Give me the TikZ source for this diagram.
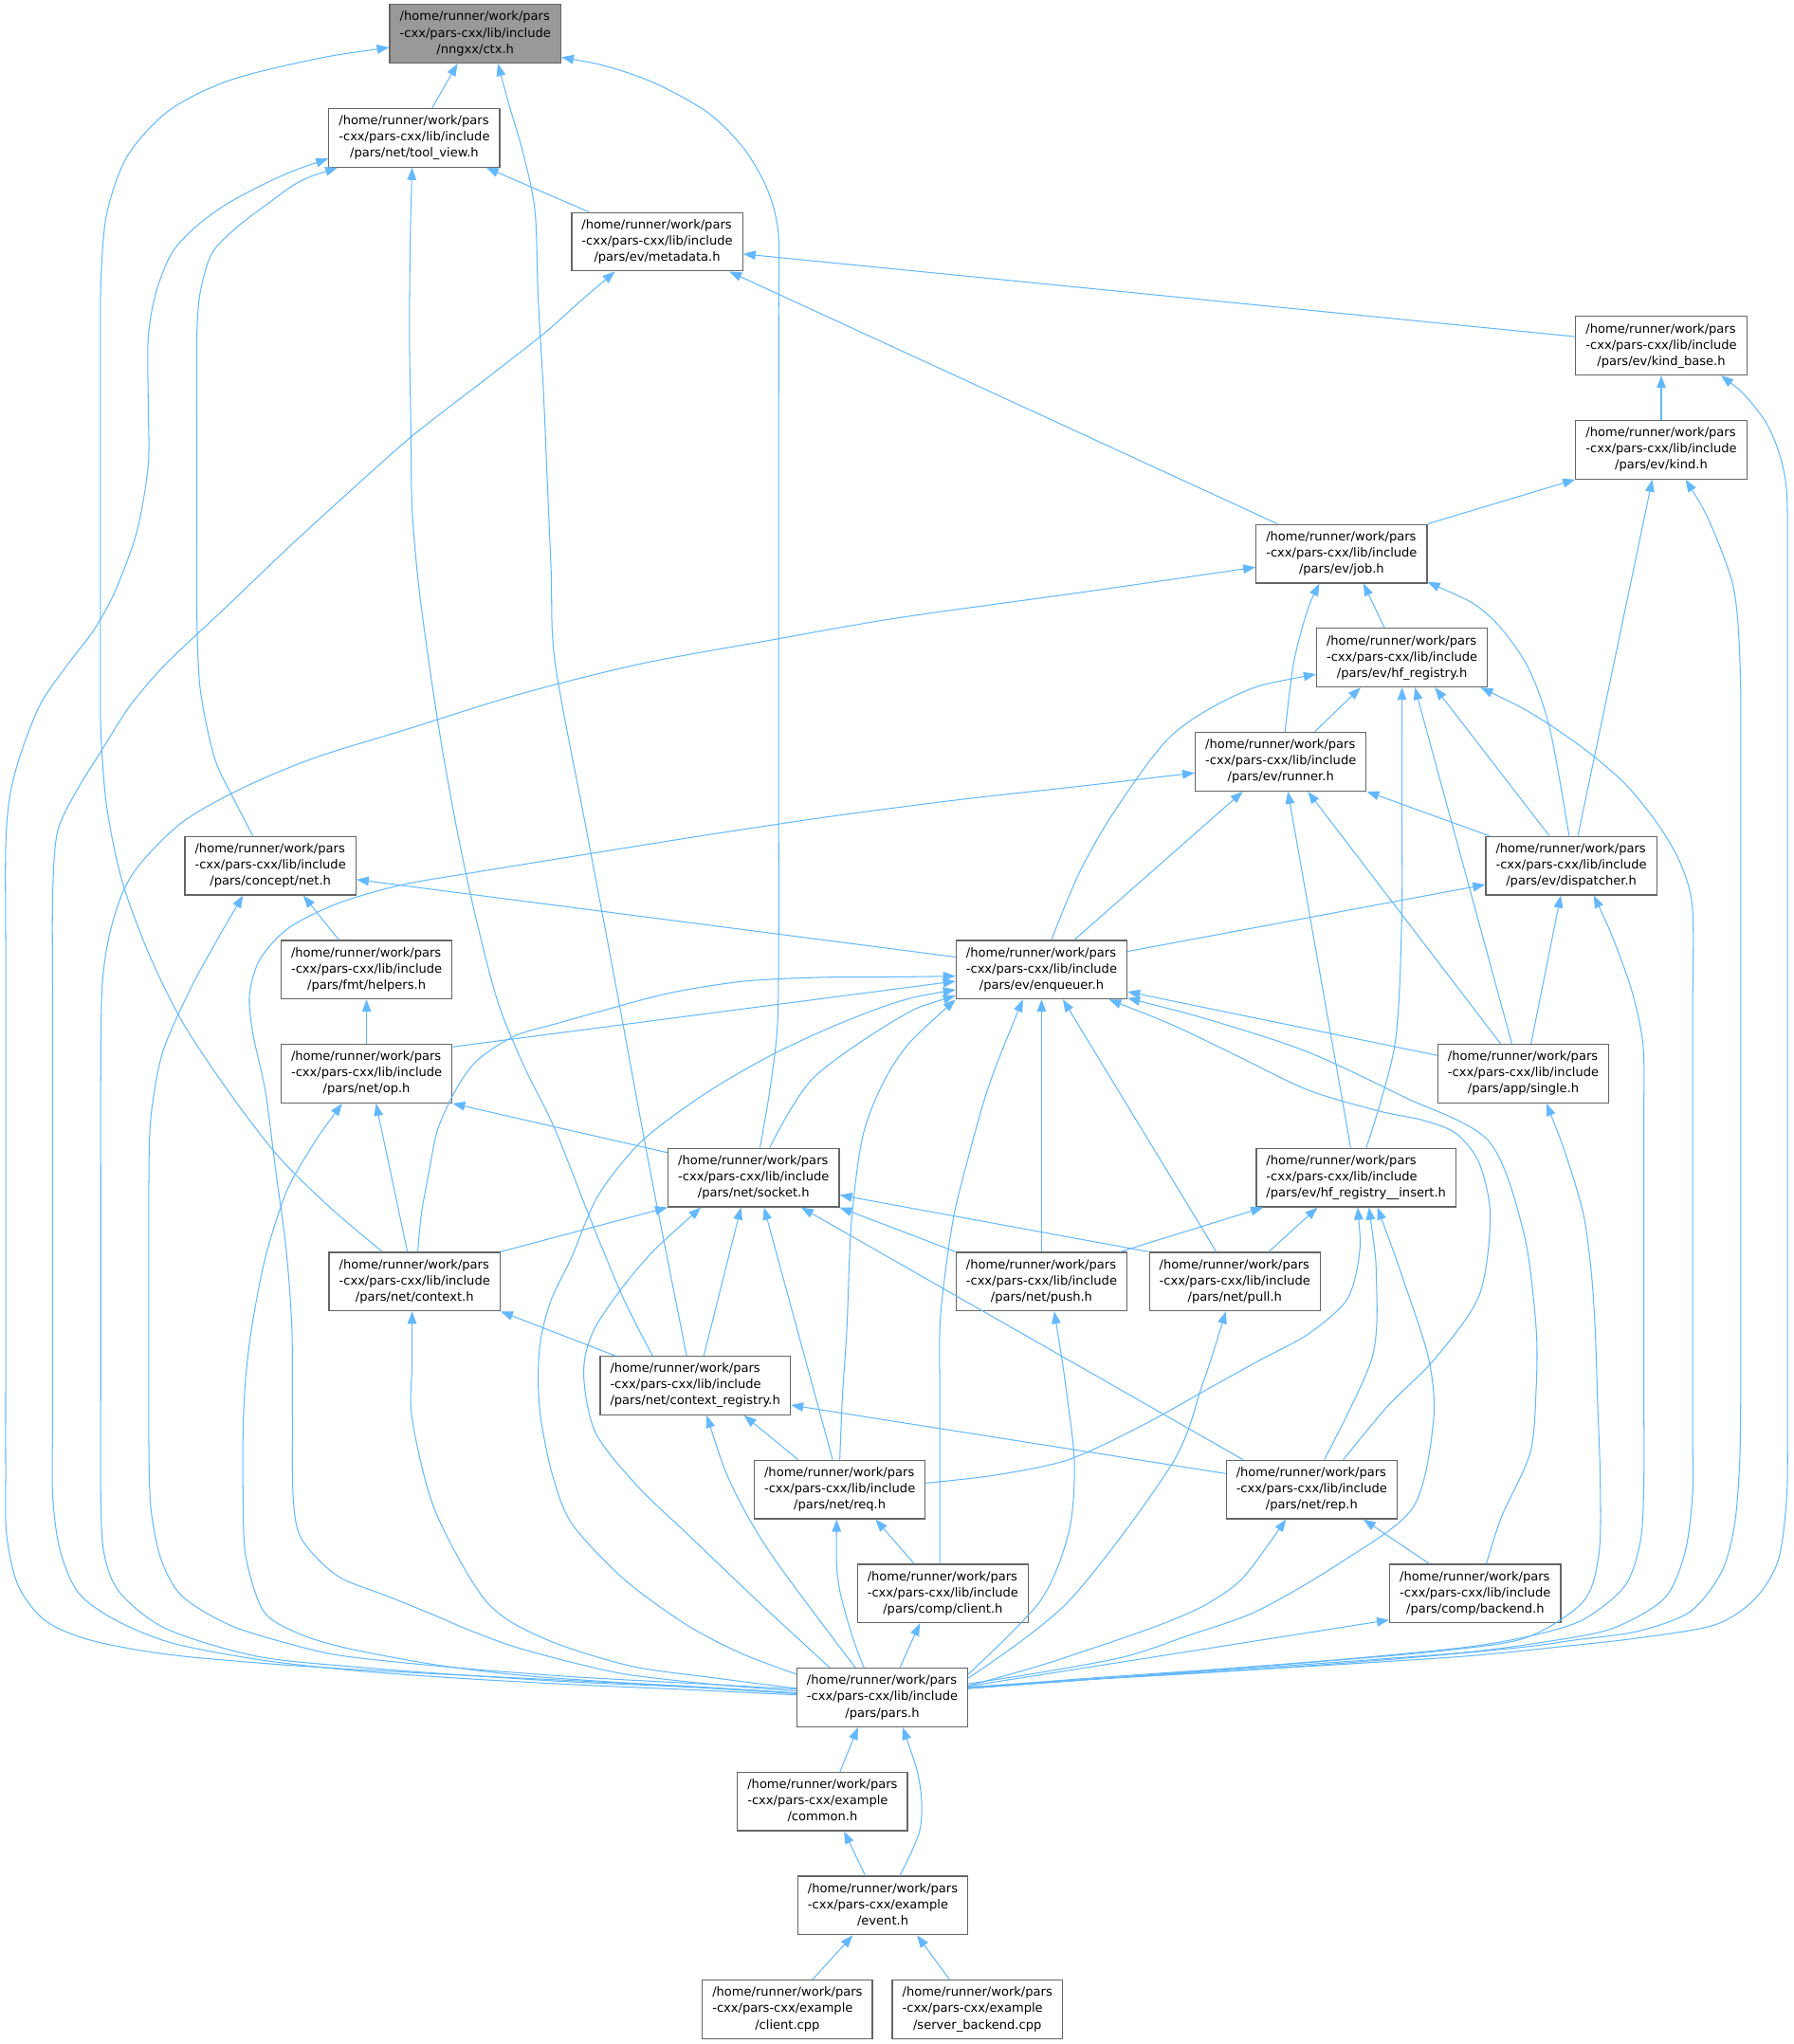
\documentclass[tikz,border=0pt]{standalone}
\usepackage{fontspec}
\setmainfont{DejaVu Sans}
\usepackage{xcolor}
\usepackage{tikz}
\usetikzlibrary{arrows.meta, positioning}

\definecolor{linkblue}{HTML}{63B8FF}
\definecolor{boxgray}{HTML}{666666}
\definecolor{rootgray}{HTML}{999999}

\newcommand{\libfile}[1]{\begin{tabular}{@{}l@{}}/home/runner/work/pars\\-cxx/pars-cxx/lib/include\\\multicolumn{1}{@{}c@{}}{#1}\end{tabular}}
\newcommand{\exfile}[1]{\begin{tabular}{@{}l@{}}/home/runner/work/pars\\-cxx/pars-cxx/example\\\multicolumn{1}{@{}c@{}}{#1}\end{tabular}}

\begin{document}
\begin{tikzpicture}[>={Triangle[length=9.5pt,width=7pt]}, x=1pt, y=-1pt]

        % Styles
        \tikzstyle{file} = [draw=boxgray, fill=white, line width=0.9pt, inner xsep=7.7pt, inner ysep=0pt, minimum height=45pt, font=\fontsize{9.52}{12.45}\selectfont]
        \tikzstyle{rootfile} = [file, fill=rootgray]
        \tikzstyle{bluearrow} = [<-, linkblue, line width=0.75pt]
        \tikzstyle{bluecurve} = [bluearrow, smooth, tension=0.5]

        \useasboundingbox (0,0) rectangle (1380,1572.6);

        % Library headers
        \node[rootfile] (ctx) at (365.6,26) {\libfile{/nngxx/ctx.h}};
        \node[file] (tview) at (318.7,106) {\libfile{/pars/net/tool\_view.h}};
        \node[file] (meta) at (505.5,186) {\libfile{/pars/ev/metadata.h}};
        \node[file] (kbase) at (1277.9,266) {\libfile{/pars/ev/kind\_base.h}};
        \node[file] (kind) at (1277.9,346) {\libfile{/pars/ev/kind.h}};
        \node[file] (job) at (1032,426) {\libfile{/pars/ev/job.h}};
        \node[file] (hfreg) at (1078.5,506) {\libfile{/pars/ev/hf\_registry.h}};
        \node[file] (runner) at (985.2,586) {\libfile{/pars/ev/runner.h}};
        \node[file] (cnet) at (208,666) {\libfile{/pars/concept/net.h}};
        \node[file] (disp) at (1208.7,666) {\libfile{/pars/ev/dispatcher.h}};
        \node[file] (fmth) at (282,746) {\libfile{/pars/fmt/helpers.h}};
        \node[file] (enq) at (801.2,746) {\libfile{/pars/ev/enqueuer.h}};
        \node[file] (op) at (282,826) {\libfile{/pars/net/op.h}};
        \node[file] (single) at (1171.8,826) {\libfile{/pars/app/single.h}};
        \node[file] (hfins) at (1043.2,906) {\libfile{/pars/ev/hf\_registry\_\_insert.h}};
        \node[file] (sock) at (579.7,906) {\libfile{/pars/net/socket.h}};
        \node[file] (netctx) at (318.9,986) {\libfile{/pars/net/context.h}};
        \node[file] (push) at (801.2,986) {\libfile{/pars/net/push.h}};
        \node[file] (pull) at (949.9,986) {\libfile{/pars/net/pull.h}};
        \node[file] (creg) at (534.8,1066) {\libfile{/pars/net/context\_registry.h}};
        \node[file] (req) at (646,1146) {\libfile{/pars/net/req.h}};
        \node[file] (rep) at (1009,1146) {\libfile{/pars/net/rep.h}};
        \node[file] (cclient) at (725.3,1226) {\libfile{/pars/comp/client.h}};
        \node[file] (cback) at (1134.8,1226) {\libfile{/pars/comp/backend.h}};
        \node[file] (pars) at (678.7,1306) {\libfile{/pars/pars.h}};

        % Examples
        \node[file] (common) at (632.7,1386) {\exfile{/common.h}};
        \node[file] (event) at (679.1,1466) {\exfile{/event.h}};
        \node[file] (clicpp) at (605.7,1546) {\exfile{/client.cpp}};
        \node[file] (srvcpp) at (751.8,1546) {\exfile{/server\_backend.cpp}};

        % Includes of ctx.h
        \draw[bluearrow] ([xshift=-13.6pt]ctx.south) -- ([xshift=13.7pt]tview.north);
        \draw[bluecurve] plot coordinates {([yshift=-10.5pt]ctx.west) (240,46) (176,62) (130,85) (98,120) (82,165) (77.5,220) (77.3,290) (77.3,360) (77.3,430) (77.3,500) (77.5,560) (82,620) (94,678) (115,735) (141,787.5) (176,840) (214,889.6) (255,930) ([xshift=-24.7pt]netctx.north)};
        \draw[bluecurve] plot coordinates {([xshift=17.4pt]ctx.south) (391.8,81.4) (403,120) (411.6,163) (414,230) (418,300) (421,370) (424,440) (427,510) (451,638) (475,765) (500,900) ([xshift=-6.6pt]creg.north)};
        \draw[bluecurve] plot coordinates {([yshift=-18pt]ctx.east) (470,52) (506,65) (545,87) (572,114) (590,145) (598.7,179) (599,240) (599,320) (599,400) (599,480) (599,560) (599,640) (599,720) (598,790) (592,840) ([xshift=4.9pt]sock.north)};

        % Includes of tool_view.h
        \draw[bluearrow] ([xshift=55.3pt]tview.south) -- ([xshift=-52.5pt]meta.north);
        \draw[bluecurve] plot coordinates {([yshift=-16pt]tview.west) (215,136) (176,156) (150,175) (132,195) (120,225) (114,260) (114,310) (114,358) (105,410) (88,456) (72,485) (53,510) (32,540) (17.6,575) (8,610) (4.4,650) (4.4,730) (4.4,810) (4.4,890) (4.4,970) (4.4,1050) (4.4,1130) (5,1180) (14,1220) (35,1247) (70,1262) (130,1273) (220,1281) (320,1287) (420,1292) (520,1297) ([yshift=3.4pt]pars.west)};
        \draw[bluecurve] plot coordinates {([xshift=-59pt]tview.south) (230,140) (207,156) (182,175) (163,195) (154,225) (151.4,260) (151.4,330) (151.4,400) (151.4,470) (154,530) (165,583) (180,615) ([xshift=-13.5pt]cnet.north)};
        \draw[bluecurve] plot coordinates {([xshift=-1.7pt]tview.south) (315.5,190) (315,260) (316,325) (317,391) (322,450) (330,510) (340,575) (352,641) (366,706) (383,771) (403,820) (427,869) (455,940) (480,1000) ([xshift=-32.8pt]creg.north)};

        % Includes of metadata.h
        \draw[bluearrow] ([yshift=-9.4pt]meta.east) -- ([yshift=7pt]kbase.west);
        \draw[bluearrow] ([xshift=55.5pt]meta.south) -- ([xshift=-49.3pt]job.north);
        \draw[bluecurve] plot coordinates {([xshift=-32.5pt]meta.south) (445,233) (418,257) (368,296) (317,335.5) (268,379) (220,423) (174,467) (127.7,510.7) (100,543) (79,576) (58,610) (44,641) (40.5,690) (40.5,770) (40.5,850) (40.5,930) (40.5,1010) (40.5,1090) (40.5,1150) (46,1192) (60,1225) (88,1246) (132,1264) (200,1277) (270,1285) (350,1291) (440,1296) (530,1300) ([yshift=2pt]pars.west)};

        % Includes of kind_base.h and kind.h
        \draw[bluearrow] (kbase) -- (kind);
        \draw[bluecurve] plot coordinates {([xshift=46pt]kbase.south) (1343,305) (1359,326) (1369,350) (1374.5,380) (1375,450) (1375,530) (1375,610) (1375,690) (1375,770) (1375,850) (1375,930) (1375,1010) (1375,1090) (1374.5,1150) (1368,1200) (1350,1230) (1319.5,1250) (1262,1260) (1200,1267) (1130,1274) (1040,1280) (940,1286) (840,1292) ([yshift=7pt]pars.east)};
        \draw[bluearrow] (kind.south west) -- (job.north east);
        \draw[bluearrow] ([xshift=-6.9pt]kind.south) -- ([xshift=5.1pt]disp.north);
        \draw[bluecurve] plot coordinates {([xshift=18.7pt]kind.south) (1312,395) (1324,423) (1333,450) (1337,480) (1339,530) (1339,600) (1339,680) (1339,760) (1339,840) (1339,920) (1339,1000) (1339,1080) (1338,1130) (1334,1175) (1324,1210) (1300,1240) (1260,1255) (1210,1262) (1174,1267) (1090,1275) (1000,1282) (910,1288) (820,1293) ([yshift=8pt]pars.east)};

        % Includes of job.h
        \draw[bluearrow] ([xshift=16.8pt]job.south) -- ([xshift=-13.5pt]hfreg.north);
        \draw[bluecurve] plot coordinates {([xshift=-17.1pt]job.south) (1005,472) (995,510.7) ([xshift=3.3pt]runner.north)};
        \draw[bluecurve] plot coordinates {([yshift=-21.8pt]job.east) (1143.4,472) (1174,510.7) (1192,560) ([xshift=-1.7pt]disp.north)};
        \draw[bluecurve] plot coordinates {([yshift=-10.4pt]job.west) (830,456) (690,475.5) (590,493) (493,510.7) (400,534) (310,562) (240.7,583.5) (185,607) (141,632) (110,662) (94.8,685.6) (84,720) (78.5,760) (77.5,830) (77.5,910) (77.5,990) (77.5,1070) (77.5,1150) (80,1195) (92,1225) (127.7,1253) (198,1274.4) (280,1283) (360,1289) (440,1294) (530,1298) ([yshift=3pt]pars.west)};

        % Includes of hf_registry.h
        \draw[bluearrow] ([xshift=-31.9pt]hfreg.south) -- ([xshift=26.1pt]runner.north);
        \draw[bluecurve] plot coordinates {([yshift=-12.7pt]hfreg.west) (954,533.4) (901,566) (857,624.6) (830,672) ([xshift=7.6pt]enq.north)};
        \draw[bluecurve] plot coordinates {(hfreg.south) (1078.3,610) (1078.3,706) (1073,803.7) ([xshift=7.8pt]hfins.north)};
        \draw[bluearrow] ([xshift=9.9pt]hfreg.south) -- ([xshift=-8.8pt]single.north);
        \draw[bluearrow] ([xshift=25.3pt]hfreg.south) -- ([xshift=-16.9pt]disp.north);
        \draw[bluecurve] plot coordinates {([xshift=60.5pt]hfreg.south) (1180,550) (1218,575.7) (1250,603) (1275.5,634.4) (1293,665) (1302,700) (1302,780) (1302,860) (1302,940) (1302,1020) (1302,1100) (1302,1150) (1296,1195) (1280,1230) (1240,1253) (1190,1263) (1130,1271) (1040,1278) (940,1285) (840,1292) ([yshift=7pt]pars.east)};

        % Includes of runner.h
        \draw[bluearrow] ([xshift=-29.2pt]runner.south) -- ([xshift=25.3pt]enq.north);
        \draw[bluearrow] ([xshift=5.5pt]runner.south) -- ([xshift=-4.2pt]hfins.north);
        \draw[bluearrow] ([xshift=20.8pt]runner.south) -- ([xshift=-17.4pt]single.north);
        \draw[bluearrow] (runner.south east) -- ([xshift=-63.1pt]disp.north);
        \draw[bluecurve] plot coordinates {([yshift=-8.6pt]runner.west) (830,605) (740,615) (640,628) (540,643) (440,659) (360,672) (308,681) (260,695) (222,714) (200,738) (192,765) (194.5,795) (204.2,840) (212,900) (220,960) (224.5,1021) (225,1090) (225.4,1150) (230,1180) (245,1200) (264,1215) (298,1228) (330,1241) (363,1255) (396,1267) (440,1279) (484,1288.5) (550,1296) ([yshift=5pt]pars.west)};

        % Includes of concept/net.h
        \draw[bluearrow] ([yshift=-10.7pt]cnet.east) -- ([yshift=9.7pt]enq.west);
        \draw[bluearrow] ([xshift=25.3pt]cnet.south) -- ([xshift=-21.4pt]fmth.north);
        \draw[bluecurve] plot coordinates {([xshift=-21pt]cnet.south) (166,725) (145.9,762) (125,810) (116,860) (114.5,910) (114.5,980) (114.5,1050) (114.5,1110) (116,1160) (124,1200) (140,1228) (176,1250) (220,1264) (264,1274) (350,1283) (440,1290) (530,1295) ([yshift=6.5pt]pars.west)};

        % Includes of dispatcher.h
        \draw[bluearrow] ([yshift=-14.6pt]disp.west) -- ([yshift=14pt]enq.east);
        \draw[bluearrow] ([xshift=-8.1pt]disp.south) -- ([xshift=5.9pt]single.north);
        \draw[bluecurve] plot coordinates {([xshift=17.3pt]disp.south) (1242,725) (1256,765) (1264,805) (1264.5,860) (1264.5,930) (1264.5,1000) (1264.5,1070) (1264.5,1140) (1262,1185) (1250,1220) (1218,1246) (1180,1258) (1130,1267) (1040,1276) (940,1284) (840,1291) ([yshift=7.5pt]pars.east)};

        % Includes of fmt/helpers.h
        \draw[bluearrow] (fmth) -- (op);

        % Includes of enqueuer.h
        \draw[bluearrow] ([yshift=-8.9pt]enq.west) -- ([yshift=20.6pt]op.east);
        \draw[bluecurve] plot coordinates {([yshift=-5pt]enq.west) (690,751.6) (630,752) (572,755) (515,764) (462,778) (430,787) (396,797) (368,815) (352,836) (337,868) (330,901.5) (324,935) ([xshift=2.5pt]netctx.north)};
        \draw[bluecurve] plot coordinates {([yshift=-20pt]enq.west) (690,784) (625,830) ([xshift=12.3pt]sock.north)};
        \draw[bluecurve] plot coordinates {([yshift=-15.4pt]enq.west) (690,771) (640,790) (590,813.5) (540,843) (493,878.6) (460,920) (440,966.6) (424,1000) (416,1030) (414,1060) (416,1091.5) (425,1135) (440,1172.4) (480,1215) (528,1250) (570,1272) ([yshift=18pt]pars.west)};
        \draw[bluecurve] plot coordinates {(enq.south west) (690,815) (665,869) (655,940) (651.5,1021) (648,1075) (req.north)};
        \draw[bluecurve] plot coordinates {([xshift=-14.4pt]enq.south) (760.4,836.3) (745,890) (734,934) (727,980) (723,1021) (723,1080) (723,1140) ([xshift=-2.3pt]cclient.north)};
        \draw[bluearrow] (enq) -- (push);
        \draw[bluearrow] ([xshift=16.4pt]enq.south) -- ([xshift=-14.3pt]pull.north);
        \draw[bluecurve] plot coordinates {([xshift=51.8pt]enq.south) (905,790) (954,813.5) (1006.6,838.8) (1060,854.6) (1095,862) (1120,872) (1137.8,894.7) (1146.4,936) (1137.8,996.8) (1103.8,1045.4) (1067.3,1082) ([xshift=24.3pt]rep.north)};
        \draw[bluearrow] ([yshift=-17pt]enq.east) -- ([yshift=14pt]single.west);
        \draw[bluecurve] plot coordinates {([yshift=-21.9pt]enq.east) (935,786) (1006.6,809.6) (1079.5,843.7) (1145,877.7) (1172,948) (1181.6,1021) (1181.6,1070) (1177,1118) (1155,1167) ([xshift=8.6pt]cback.north)};

        % Includes of net/op.h
        \draw[bluearrow] (op.south east) -- ([yshift=19.2pt]sock.west);
        \draw[bluearrow] ([xshift=7.2pt]op.south) -- ([xshift=-5.5pt]netctx.north);
        \draw[bluecurve] plot coordinates {([xshift=-18.8pt]op.south) (240,882) (220,917.7) (204,968) (193.7,1021) (189,1060) (187,1100) (187,1150) (189,1197) (202.5,1239.3) (228,1256) (264,1267.4) (330,1280) (396,1288.5) (470,1294) (540,1298) ([yshift=3.4pt]pars.west)};

        % Includes of app/single.h
        \draw[bluecurve] plot coordinates {([xshift=17.8pt]single.south) (1205,890) (1218,934) (1224,978) (1227,1021) (1229,1080) (1231,1140) (1230,1195) (1218,1232) (1174,1260) (1110,1270) (1020,1278) (930,1285) (840,1292) ([yshift=7pt]pars.east)};

        % Includes of hf_registry__insert.h
        \draw[bluearrow] ([xshift=-71.5pt]hfins.south) -- ([xshift=60.5pt]push.north);
        \draw[bluearrow] ([xshift=-29.7pt]hfins.south) -- ([xshift=26.1pt]pull.north);
        \draw[bluecurve] plot coordinates {([xshift=1.2pt]hfins.south) (1045.5,966) (1036,1000) (1006.6,1026.2) (970,1046) (932,1067) (878,1097) (822,1123) (765,1135) ([yshift=5pt]req.east)};
        \draw[bluecurve] plot coordinates {([xshift=9.8pt]hfins.south) (1058.8,984.7) (1055.2,1045.4) ([xshift=9.7pt]rep.north)};
        \draw[bluecurve] plot coordinates {([xshift=16.4pt]hfins.south) (1079.5,984.7) (1099,1045.4) (1102.6,1094) (1086.8,1160) (1030,1203) (967.3,1239.3) (915,1258) (866,1274.4) (805,1286) ([yshift=10.5pt]pars.east)};

        % Includes of net/socket.h
        \draw[bluearrow] (sock.south west) -- (netctx.north east);
        \draw[bluearrow] (sock.south east) -- (push.north west);
        \draw[bluearrow] ([yshift=-13.4pt]sock.east) -- (pull.north west);
        \draw[bluearrow] ([xshift=-9.7pt]sock.south) -- ([xshift=6.6pt]creg.north);
        \draw[bluearrow] ([xshift=8pt]sock.south) -- ([xshift=-5.5pt]req.north);
        \draw[bluearrow] ([xshift=36.6pt]sock.south) -- ([xshift=-52.7pt]rep.north);
        \draw[bluecurve] plot coordinates {([xshift=-40.5pt]sock.south) (493,973) (458,1021) (449,1056) (458,1102) (490,1143) (528,1179.5) (583,1232) ([xshift=-40.4pt]pars.north)};

        % Includes of net/context.h, push.h, pull.h
        \draw[bluearrow] (netctx.south east) -- ([xshift=-61.6pt]creg.north);
        \draw[bluecurve] plot coordinates {([xshift=-1.9pt]netctx.south) (317,1050) (317,1091.5) (334.6,1162) (374,1232) (418,1260.4) (484,1281.5) (550,1291) ([yshift=7pt]pars.west)};
        \draw[bluecurve] plot coordinates {([xshift=9.8pt]push.south) (820,1068) (826.5,1126.7) (822,1179.5) (800,1232) ([yshift=18pt]pars.east)};
        \draw[bluecurve] plot coordinates {([xshift=-6.9pt]pull.south) (925,1065) (901.3,1126.7) (822,1232) ([yshift=15pt]pars.east)};

        % Includes of context_registry.h
        \draw[bluearrow] ([xshift=37.5pt]creg.south) -- ([xshift=-32pt]req.north);
        \draw[bluearrow] ([yshift=-15pt]creg.east) -- ([yshift=12.3pt]rep.west);
        \draw[bluecurve] plot coordinates {([xshift=8.8pt]creg.south) (563.5,1144) (594,1197) ([xshift=-20.7pt]pars.north)};

        % Includes of req.h, rep.h
        \draw[bluearrow] ([xshift=27.5pt]req.south) -- ([xshift=-22.1pt]cclient.north);
        \draw[bluecurve] plot coordinates {([xshift=-2.4pt]req.south) (645,1218) (656,1260) ([xshift=-14pt]pars.north)};
        \draw[bluearrow] ([xshift=39.8pt]rep.south) -- ([xshift=-35.4pt]cback.north);
        \draw[bluecurve] plot coordinates {([xshift=-19.7pt]rep.south) (932,1232) (822,1274.4) ([yshift=9pt]pars.east)};

        % Includes of comp headers
        \draw[bluearrow] ([xshift=-17.7pt]cclient.south) -- ([xshift=13.5pt]pars.north);
        \draw[bluearrow] ([yshift=-20.3pt]cback.west) -- ([yshift=8.7pt]pars.east);

        % Examples
        \draw[bluearrow] ([xshift=-18.7pt]pars.south) -- ([xshift=13.5pt]common.north);
        \draw[bluecurve] plot coordinates {([xshift=15.7pt]pars.south) (707.6,1373) (707.6,1408) ([xshift=13.1pt]event.north)};
        \draw[bluearrow] ([xshift=16.6pt]common.south) -- ([xshift=-13.5pt]event.north);
        \draw[bluearrow] ([xshift=-23.1pt]event.south) -- ([xshift=19.3pt]clicpp.north);
        \draw[bluearrow] ([xshift=26.3pt]event.south) -- ([xshift=-21.3pt]srvcpp.north);

\end{tikzpicture}
\end{document}
